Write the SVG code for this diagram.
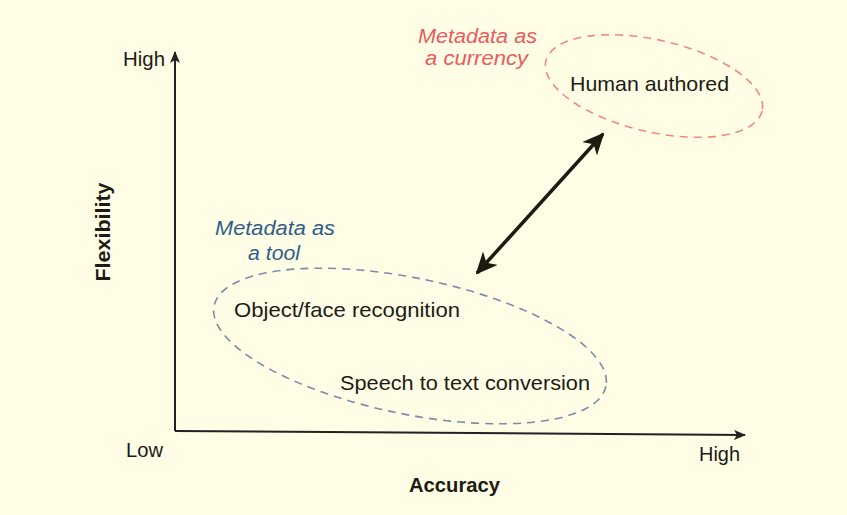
<svg xmlns="http://www.w3.org/2000/svg" width="847" height="515" viewBox="0 0 847 515">
<defs>
<style>
.t{font-family:"Liberation Sans",Arial,sans-serif;font-size:21px;fill:#1c1c14}
.s{font-size:20px}
.b{font-weight:bold}
.red{font-style:italic;fill:#ea5a5e;font-size:20px}
.blue{font-style:italic;fill:#2f5d88;font-size:20px}
.ax{stroke:#222;stroke-width:2;fill:none}
.dr{fill:none;stroke:#f08a84;stroke-width:1.6;stroke-dasharray:8 6}
.db{fill:none;stroke:#7a8ca6;stroke-width:1.6;stroke-dasharray:8 6}
</style>
<marker id="ah" markerWidth="12" markerHeight="10" refX="11" refY="5" orient="auto" markerUnits="userSpaceOnUse">
<path d="M0,0 L12,5 L0,10 L3,5 Z" fill="#222"/>
</marker>
<marker id="dh" markerWidth="22" markerHeight="20" refX="20" refY="10" orient="auto-start-reverse" markerUnits="userSpaceOnUse">
<path d="M0,0 L22,10 L0,20 L6,10 Z" fill="#1e1a10"/>
</marker>
</defs>
<rect width="847" height="515" fill="#fffde6"/>
<g id="axes">
<path class="ax" d="M175,431 L175,52" marker-end="url(#ah)"/>
<path class="ax" d="M175,431 L745,435" marker-end="url(#ah)"/>
<text class="t s" x="123" y="66" textLength="42" lengthAdjust="spacingAndGlyphs">High</text>
<text class="t s" x="126" y="457" textLength="37" lengthAdjust="spacingAndGlyphs">Low</text>
<text class="t s" x="699" y="461" textLength="41" lengthAdjust="spacingAndGlyphs">High</text>
<text class="t b" x="409" y="492" textLength="91" lengthAdjust="spacingAndGlyphs">Accuracy</text>
<text class="t b" transform="translate(110,232) rotate(-90)" text-anchor="middle" textLength="99" lengthAdjust="spacingAndGlyphs">Flexibility</text>
</g>
<g id="currency">
<ellipse class="dr" cx="654" cy="86" rx="111" ry="46" transform="rotate(13 654 86)"/>
<text class="t red" x="418" y="43" textLength="119" lengthAdjust="spacingAndGlyphs">Metadata as</text>
<text class="t red" x="425" y="65" textLength="103" lengthAdjust="spacingAndGlyphs">a currency</text>
<text class="t" x="570" y="91" textLength="159" lengthAdjust="spacingAndGlyphs">Human authored</text>
</g>
<g id="tool">
<ellipse class="db" cx="410" cy="346" rx="200" ry="68" transform="rotate(11.6 410 346)"/>
<text class="t blue" x="215" y="235" textLength="120" lengthAdjust="spacingAndGlyphs">Metadata as</text>
<text class="t blue" x="248" y="260" textLength="52" lengthAdjust="spacingAndGlyphs">a tool</text>
<text class="t" x="234" y="317" textLength="226" lengthAdjust="spacingAndGlyphs">Object/face recognition</text>
<text class="t" x="340" y="390" textLength="250" lengthAdjust="spacingAndGlyphs">Speech to text conversion</text>
</g>
<g id="connectors">
<path d="M477,273 L603,134" stroke="#1e1a10" stroke-width="3.5" fill="none" marker-start="url(#dh)" marker-end="url(#dh)"/>
</g>
</svg>
